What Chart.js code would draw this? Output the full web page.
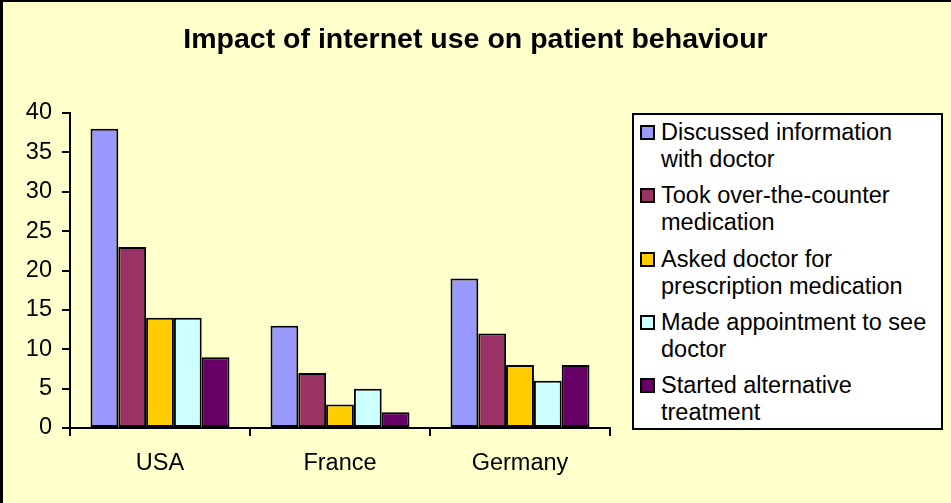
<!DOCTYPE html>
<html>
<head>
<meta charset="utf-8">
<script src="https://cdn.jsdelivr.net/npm/chart.js@4.4.1/dist/chart.umd.min.js"></script>
<style>
  html, body { margin: 0; padding: 0; background: #FFFFCC; }
  #wrap { position: relative; width: 951px; height: 503px; background: #FFFFCC; overflow: hidden; }
  #chart { position: absolute; left: 0; top: 0; }
  #frame { position: absolute; left: 0; top: 0; width: 951px; height: 503px; box-sizing: border-box;
           border-top: 2px solid #000; border-left: 3px solid #000; pointer-events: none; }
  #legend { position: absolute; left: 632px; top: 113px; width: 311px; height: 317px; box-sizing: border-box;
            background: #fff; border: 2px solid #000; padding-top: 4px;
            font-family: "Liberation Sans", Arial, sans-serif; font-size: 23.5px; color: #000; }
  .item { position: relative; padding-left: 27px; line-height: 27px; margin-bottom: 9.3px; }
  .swatch { position: absolute; left: 6px; top: 6px; width: 15px; height: 15px; box-sizing: border-box; border: 2px solid #000; }
</style>
</head>
<body>
<div id="wrap">
  <canvas id="chart" width="951" height="503"></canvas>
  <div id="legend"></div>
  <div id="frame"></div>
</div>
<script>
// ========================
// data
// ========================
const countries = ['USA', 'France', 'Germany'];

const seriesNames = [
  ['Discussed information', 'with doctor'],
  ['Took over-the-counter', 'medication'],
  ['Asked doctor for', 'prescription medication'],
  ['Made appointment to see', 'doctor'],
  ['Started alternative', 'treatment']
];

const discussedWithDoctor = [38, 13, 19];
const overTheCounter = [23, 7, 12];
const askedForPrescription = [14, 3, 8];
const madeAppointment = [14, 5, 6];
const alternativeTreatment = [9, 2, 8];

const seriesColors = ['#9999FF', '#993366', '#FFCC00', '#CCFFFF', '#660066'];

const yMin = 0;
const yMax = 40;
const yStep = 5;

const titleText = 'Impact of internet use on patient behaviour';

// ========================
// chart
// ========================
const allSeries = [discussedWithDoctor, overTheCounter, askedForPrescription, madeAppointment, alternativeTreatment];
const font = "'Liberation Sans', Arial, sans-serif";

const datasets = allSeries.map((values, i) => ({
  label: seriesNames[i].join(' '),
  data: values,
  backgroundColor: seriesColors[i],
  borderColor: '#000',
  borderWidth: 2,
  borderSkipped: false,
  categoryPercentage: 0.772,
  barPercentage: 1
}));

const ctx = document.getElementById('chart').getContext('2d');
new Chart(ctx, {
  type: 'bar',
  data: { labels: countries, datasets: datasets },
  options: {
    responsive: false,
    animation: false,
    layout: { padding: 0 },
    plugins: {
      legend: { display: false },
      tooltip: { enabled: false },
      title: {
        display: true,
        text: titleText,
        color: '#000',
        font: { family: font, size: 28.5, weight: 'bold', lineHeight: 1.2 },
        padding: { top: 23, bottom: 55.8 }
      }
    },
    scales: {
      x: {
        afterFit: s => { s.height = 75; },
        grid: { offset: true, drawOnChartArea: false, color: '#000', lineWidth: 2, tickLength: 8 },
        border: { color: '#000', width: 2 },
        ticks: { color: '#000', font: { family: font, size: 23.5 }, padding: 13, maxRotation: 0 }
      },
      y: {
        min: yMin,
        max: yMax,
        afterFit: s => { s.width = 70; },
        grid: { drawOnChartArea: false, color: '#000', lineWidth: 2, tickLength: 8 },
        border: { color: '#000', width: 2 },
        ticks: { stepSize: yStep, color: '#000', font: { family: font, size: 23.5 }, padding: 10 }
      },
      spacer: {
        type: 'linear',
        position: 'right',
        afterFit: s => { s.width = 341; },
        grid: { display: false },
        border: { display: false },
        ticks: { display: false }
      }
    }
  }
});

// ========================
// legend
// ========================
const legend = document.getElementById('legend');
seriesNames.forEach((lines, i) => {
  const item = document.createElement('div');
  item.className = 'item';
  item.innerHTML = `<span class="swatch" style="background:${seriesColors[i]}"></span>${lines.join('<br>')}`;
  legend.appendChild(item);
});
</script>
</body>
</html>
